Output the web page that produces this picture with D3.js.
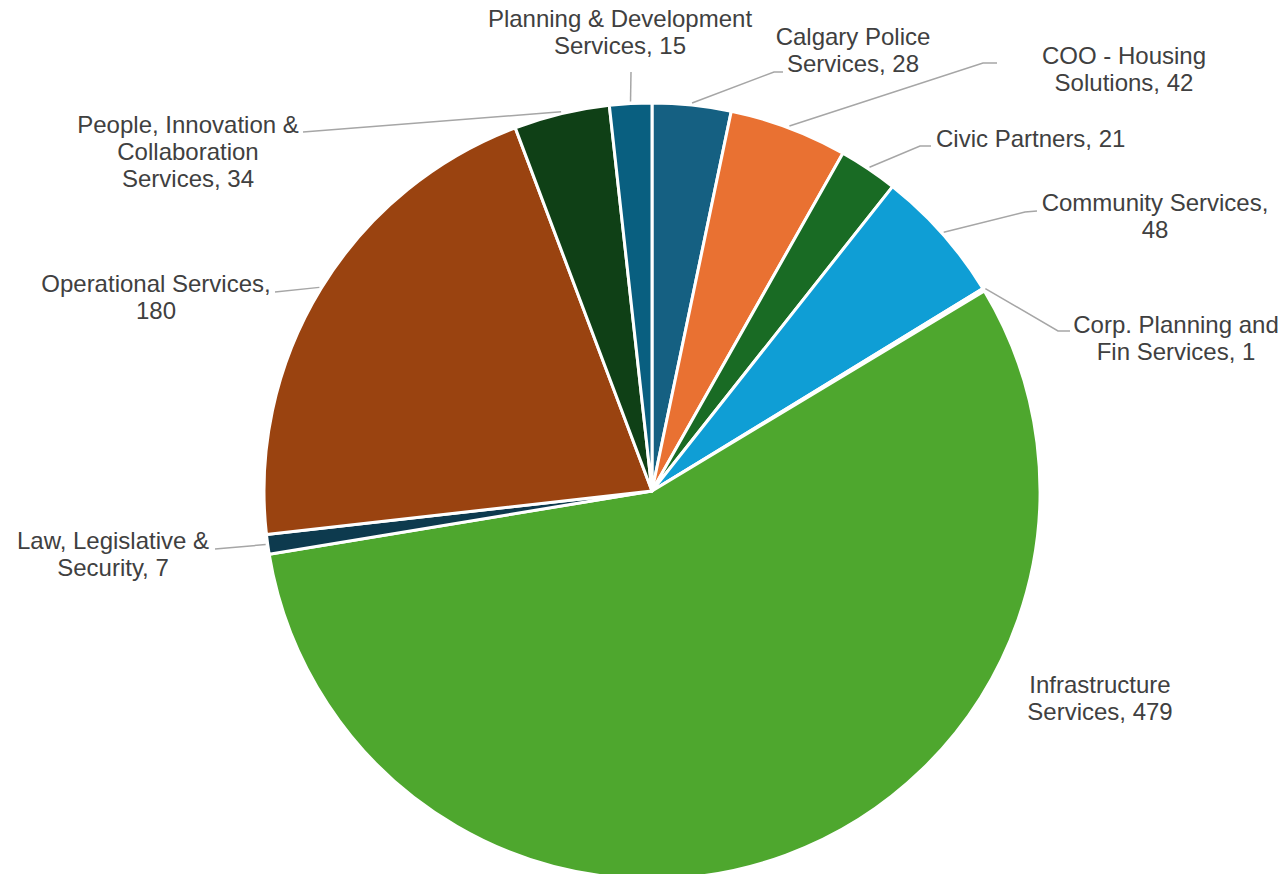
<!DOCTYPE html>
<html>
<head>
<meta charset="utf-8">
<script src="https://cdn.jsdelivr.net/npm/d3@7"></script>
<style>
  html, body { margin: 0; padding: 0; background: #ffffff; }
  svg { display: block; }
  text { font-family: "Liberation Sans", Arial, sans-serif; }
</style>
</head>
<body>
<svg id="chart" width="1284" height="874"></svg>
<script>
// ---- Data ----
const categories = [
  "Calgary Police Services",
  "COO - Housing Solutions",
  "Civic Partners",
  "Community Services",
  "Corp. Planning and Fin Services",
  "Infrastructure Services",
  "Law, Legislative & Security",
  "Operational Services",
  "People, Innovation & Collaboration Services",
  "Planning & Development Services"
];
const values = [28, 42, 21, 48, 1, 479, 7, 180, 34, 15];
const colors = ["#156082", "#E97132", "#196B24", "#0F9ED5", "#A02B93",
                "#4EA72E", "#0D3A4E", "#9A4310", "#0F4016", "#095F80"];
// label text lines (category, value)
const labelLines = [
  ["Calgary Police", "Services, 28"],
  ["COO - Housing", "Solutions, 42"],
  ["Civic Partners, 21"],
  ["Community Services,", "48"],
  ["Corp. Planning and", "Fin Services, 1"],
  ["Infrastructure", "Services, 479"],
  ["Law, Legislative &", "Security, 7"],
  ["Operational Services,", "180"],
  ["People, Innovation &", "Collaboration", "Services, 34"],
  ["Planning & Development", "Services, 15"]
];

// ---- Layout (positions of labels, leader elbows) ----
const cx = 652, cy = 491, R = 388;
const labelPos = [
  {x: 853, y: 45, anchor: "middle"},
  {x: 1124, y: 64, anchor: "middle"},
  {x: 936, y: 147, anchor: "start"},
  {x: 1155, y: 211, anchor: "middle"},
  {x: 1176, y: 333, anchor: "middle"},
  {x: 1100, y: 693, anchor: "middle"},
  {x: 113, y: 549, anchor: "middle"},
  {x: 156, y: 292, anchor: "middle"},
  {x: 188, y: 133, anchor: "middle"},
  {x: 620, y: 27, anchor: "middle"}
];
const leaderPts = [
  [[774, 72], [783, 72]],
  [[983, 63], [997, 63]],
  [[920, 146], [931, 146]],
  [[1025, 212], [1037, 211]],
  [[1058, 331], [1070, 331]],
  null,
  [[215, 549]],
  [[275, 292]],
  [[303, 132]],
  [[631, 72]]
];

const svg = d3.select("#chart");
const g = svg.append("g").attr("transform", `translate(${cx},${cy})`);

const data = categories.map((c, i) => ({name: c, value: values[i], idx: i}));
const pie = d3.pie().value(d => d.value).sort(null).startAngle(0).endAngle(2 * Math.PI);
const arcs = pie(data);
const arc = d3.arc().innerRadius(0).outerRadius(R);
const color = d3.scaleOrdinal().domain(categories).range(colors);

g.selectAll("path.slice")
  .data(arcs)
  .join("path")
  .attr("class", "slice")
  .attr("d", arc)
  .attr("fill", d => color(d.data.name))
  .attr("stroke", "#ffffff")
  .attr("stroke-width", 3)
  .attr("stroke-linejoin", "round");

// leader lines
const leaderArc = d3.arc().innerRadius(R + 2).outerRadius(R + 2);
arcs.forEach((a, i) => {
  const pts = leaderPts[i];
  if (!pts) return;
  const c = leaderArc.centroid(a);
  const start = [c[0] + cx, c[1] + cy];
  const all = [start].concat(pts);
  svg.append("path")
    .attr("d", d3.line()(all))
    .attr("fill", "none")
    .attr("stroke", "#a6a6a6")
    .attr("stroke-width", 1.5);
});

// labels
const lineH = 27;
arcs.forEach((a, i) => {
  const p = labelPos[i];
  const t = svg.append("text")
    .attr("x", p.x)
    .attr("y", p.y)
    .attr("text-anchor", p.anchor)
    .attr("font-size", 24)
    .attr("fill", "#404040");
  labelLines[i].forEach((ln, k) => {
    t.append("tspan").attr("x", p.x).attr("y", p.y + k * lineH).text(ln);
  });
});
</script>
</body>
</html>
